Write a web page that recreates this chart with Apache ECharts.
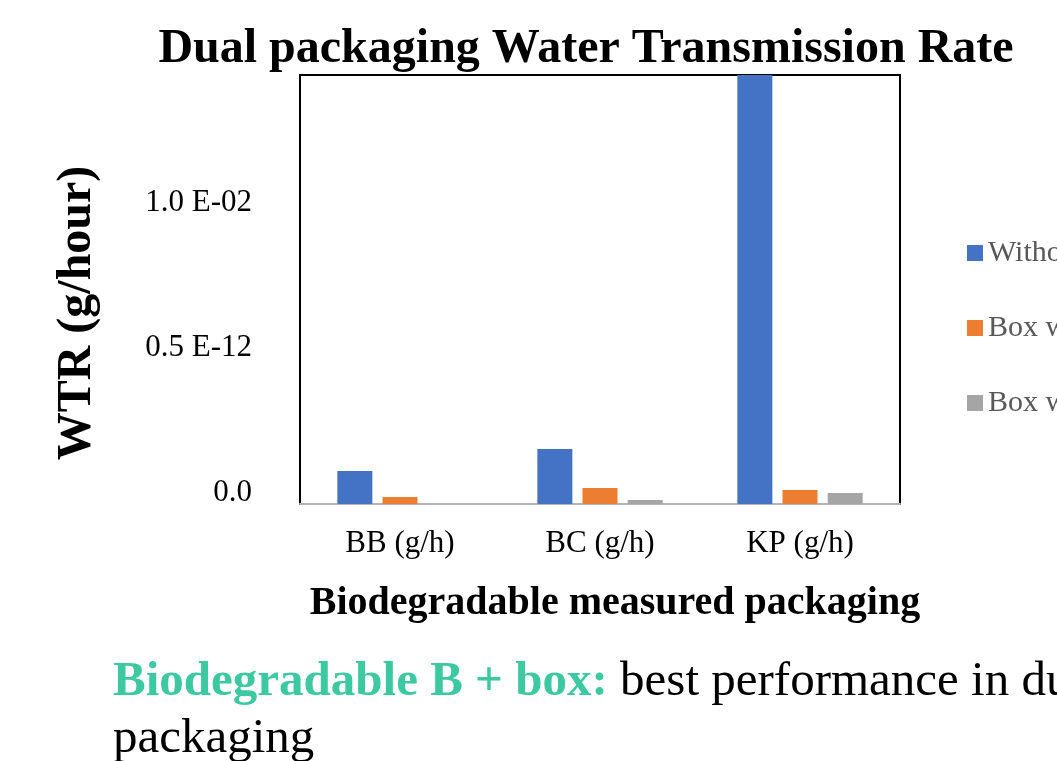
<!DOCTYPE html>
<html>
<head>
<meta charset="utf-8">
<script src="https://cdn.jsdelivr.net/npm/echarts@6/dist/echarts.min.js"></script>
<style>
html,body{margin:0;padding:0;background:#fff;}
#c{width:1057px;height:761px;}
</style>
</head>
<body>
<div id="c"></div>
<script>
const categories = ['BB (g/h)', 'BC (g/h)', 'KP (g/h)'];
const seriesNames = ['Without box', 'Box with cover', 'Box with wrap'];
const withoutBox = [0.00114, 0.0019, 0.0148];
const boxA = [0.00024, 0.00055, 0.00048];
const boxB = [0, 0.00014, 0.00038];
const yTickLabels = { '0': '0.0', '0.005': '0.5 E-12', '0.01': '1.0 E-02' };
const colors = ['#4472C4', '#ED7D31', '#A5A5A5'];

const serif = '"Liberation Serif", "Times New Roman", serif';
const chart = echarts.init(document.getElementById('c'));
const mk = (name, data, i) => ({
  name: name, type: 'bar', data: data,
  barWidth: 35, barGap: '29%',
  itemStyle: { color: colors[i] }
});
chart.setOption({
  animation: false,
  textStyle: { fontFamily: serif },
  title: {
    text: 'Dual packaging Water Transmission Rate',
    left: 581, top: 21, textAlign: 'center',
    textStyle: { fontFamily: serif, fontSize: 48, fontWeight: 'bold', color: '#000' }
  },
  legend: {
    orient: 'vertical', left: 962, top: 233,
    itemWidth: 16, itemHeight: 16, itemGap: 45,
    icon: 'rect',
    textStyle: { fontFamily: serif, fontSize: 30, color: '#595959' },
    data: seriesNames
  },
  grid: {
    left: 300, right: 157, top: 75, bottom: 257,
    show: true, borderColor: '#000', borderWidth: 2, backgroundColor: 'transparent'
  },
  xAxis: {
    type: 'category', data: categories,
    axisLine: { show: true, lineStyle: { color: '#b4b4b4', width: 2 } },
    axisTick: { show: false },
    axisLabel: { fontFamily: serif, fontSize: 31, color: '#000', margin: 24 }
  },
  yAxis: {
    type: 'value', min: 0, max: 0.0148, interval: 0.005,
    splitLine: { show: false },
    axisLine: { show: false }, axisTick: { show: false },
    axisLabel: {
      showMaxLabel: false,
      fontFamily: serif, fontSize: 31, color: '#000', margin: 48,
      verticalAlign: 'bottom', lineHeight: 22,
      formatter: function (v) {
        const k = String(Math.round(v * 1000) / 1000);
        return yTickLabels[k] !== undefined ? yTickLabels[k] : '';
      }
    }
  },
  graphic: [
    {
      type: 'text', x: 78, y: 313, rotation: Math.PI / 2,
      style: { text: 'WTR (g/hour)', fontFamily: serif, fontSize: 48, fontWeight: 'bold',
        fill: '#000', align: 'center', verticalAlign: 'middle' }
    },
    {
      type: 'text', x: 615, y: 604,
      style: { text: 'Biodegradable measured packaging', fontFamily: serif, fontSize: 40, fontWeight: 'bold',
        fill: '#000', align: 'center', verticalAlign: 'middle' }
    },
    {
      type: 'text', x: 113, y: 654,
      style: {
        text: '{a|Biodegradable B + box:}{b| best performance in dual}\n{b|packaging}',
        fontFamily: serif,
        rich: {
          a: { fontFamily: serif, fontSize: 49, fontWeight: 'bold', fill: '#3cc9a2', lineHeight: 57 },
          b: { fontFamily: serif, fontSize: 49, fill: '#000', lineHeight: 57 }
        }
      }
    }
  ],
  series: [mk(seriesNames[0], withoutBox, 0), mk(seriesNames[1], boxA, 1), mk(seriesNames[2], boxB, 2)]
});
</script>
</body>
</html>
